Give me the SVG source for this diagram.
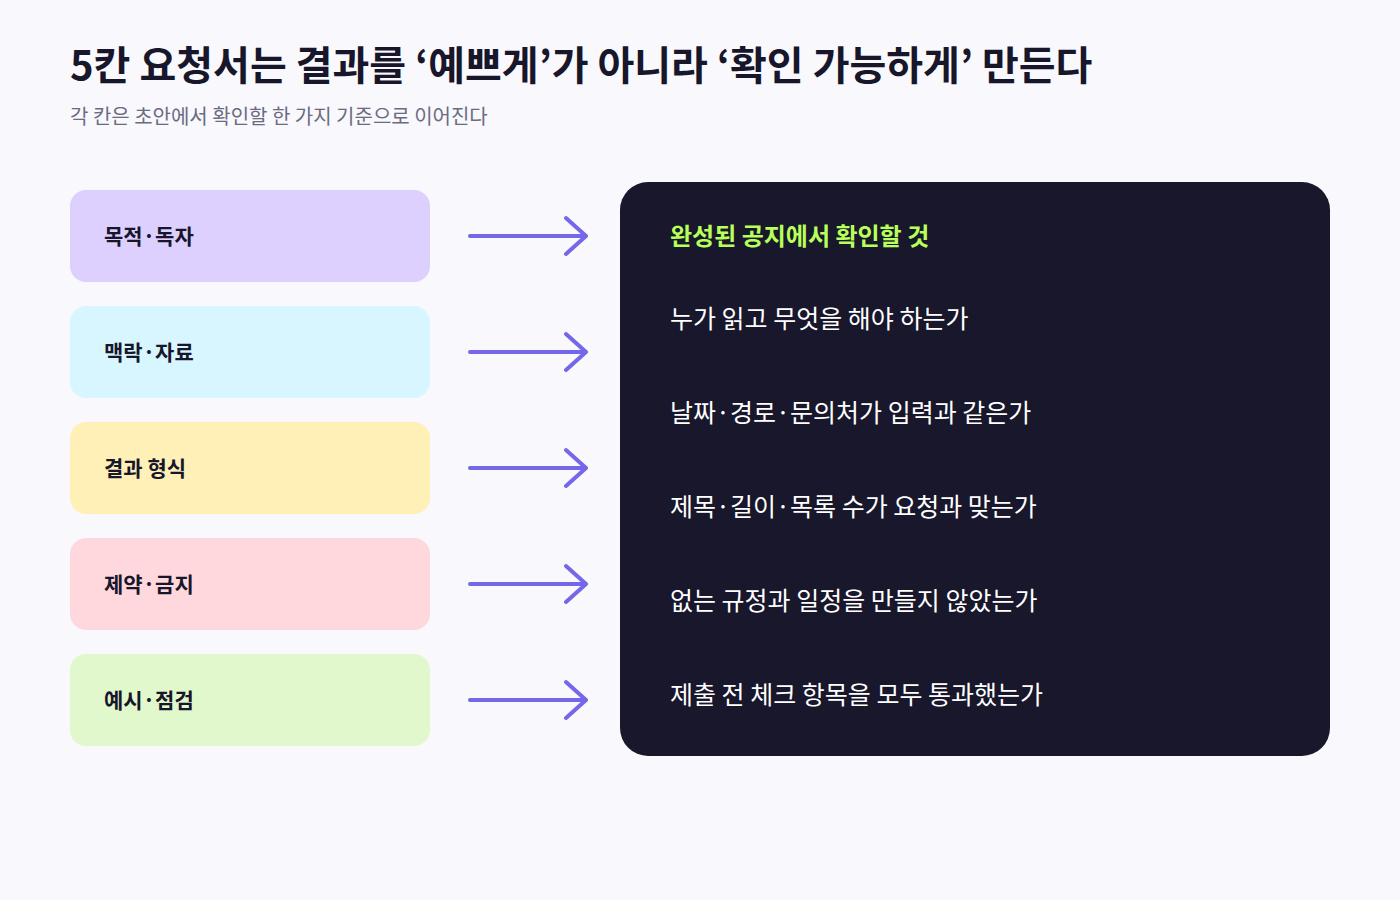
<svg xmlns="http://www.w3.org/2000/svg" width="1400" height="900" viewBox="0 0 1400 900">
<style>
text{font-family:"Noto Sans CJK KR","Noto Sans",sans-serif}
.lbl{font-size:21px;font-weight:700;fill:#17162a}
.item{font-size:25px;fill:#ffffff}
.arr{fill:none;stroke:#7468e8;stroke-width:4;stroke-linecap:round;stroke-linejoin:round}
</style>
<rect width="1400" height="900" fill="#f8f8fd"/>
<text x="70" y="80" font-size="40" font-weight="700" fill="#17162a">5칸 요청서는 결과를 ‘예쁘게’가 아니라 ‘확인 가능하게’ 만든다</text>
<text x="70" y="124" font-size="20" fill="#6b6b80">각 칸은 초안에서 확인할 한 가지 기준으로 이어진다</text>
<g id="n1"><rect x="70" y="190" width="360" height="92" rx="16" fill="#ddd0ff"/><text class="lbl" x="104" y="244">목적·독자</text></g>
<g id="n2"><rect x="70" y="306" width="360" height="92" rx="16" fill="#d8f6ff"/><text class="lbl" x="104" y="360">맥락·자료</text></g>
<g id="n3"><rect x="70" y="422" width="360" height="92" rx="16" fill="#fff0b8"/><text class="lbl" x="104" y="476">결과 형식</text></g>
<g id="n4"><rect x="70" y="538" width="360" height="92" rx="16" fill="#ffd8dd"/><text class="lbl" x="104" y="592">제약·금지</text></g>
<g id="n5"><rect x="70" y="654" width="360" height="92" rx="16" fill="#e0f8cc"/><text class="lbl" x="104" y="708">예시·점검</text></g>
<g id="connectors">
<path class="arr" d="M470 236H586M566 218L586 236L566 254"/>
<path class="arr" d="M470 352H586M566 334L586 352L566 370"/>
<path class="arr" d="M470 468H586M566 450L586 468L566 486"/>
<path class="arr" d="M470 584H586M566 566L586 584L566 602"/>
<path class="arr" d="M470 700H586M566 682L586 700L566 718"/>
</g>
<g id="panel">
<rect x="620" y="182" width="710" height="574" rx="28" fill="#18172b"/>
<text x="670" y="245" font-size="24" font-weight="700" fill="#b8ff5a">완성된 공지에서 확인할 것</text>
<text class="item" x="670" y="328">누가 읽고 무엇을 해야 하는가</text>
<text class="item" x="670" y="422">날짜·경로·문의처가 입력과 같은가</text>
<text class="item" x="670" y="516">제목·길이·목록 수가 요청과 맞는가</text>
<text class="item" x="670" y="610">없는 규정과 일정을 만들지 않았는가</text>
<text class="item" x="670" y="704">제출 전 체크 항목을 모두 통과했는가</text>
</g>
</svg>
